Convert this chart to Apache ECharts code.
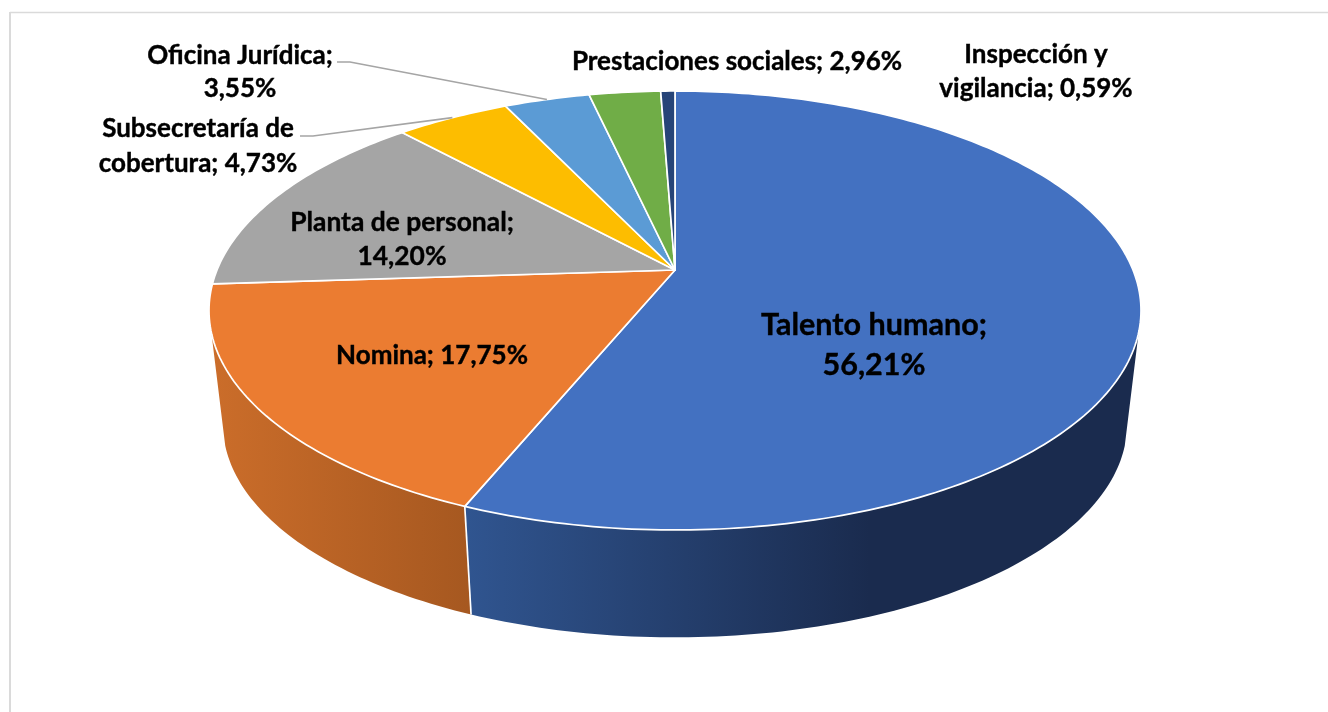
<!DOCTYPE html>
<html>
<head>
<meta charset="utf-8">
<style>html,body{margin:0;padding:0;background:#fff}#c{width:1328px;height:712px}</style>
<script src="https://cdn.jsdelivr.net/npm/echarts@6/dist/echarts.min.js"></script>
</head>
<body>
<div id="c"></div>
<script>
// ---- data ----
const categories = ['Talento humano','Nomina','Planta de personal','Subsecretaría de\ncobertura','Oficina Jurídica','Prestaciones sociales','Inspección y\nvigilancia'];
const shares = [56.21,17.75,14.20,4.73,3.55,2.96,0.59];
const separators = [';\n','; ',';\n','; ',';\n','; ','; '];
const colors = ['#4371C1','#EB7C31','#A5A5A5','#FDBD00','#5B9BD5','#70AD47','#264478'];

// ---- presentation ----
const labelFont = [30.5,26,26.4,26,26,26,26];
const labelGap = [40,34,34,35,33,34,34];
const labelAt = [[874,345],[432,355.5],[402,239],[198,146],[240,72],[737,61.5],[1036,72]];
const leaderStart = {3:[[300,136],[313,136]],4:[[337,62],[350,62]]};
const wallFill = {
  0:{x:465,x2:870,stops:['#305590','#1A2B4E']},
  1:{x:212,x2:470,stops:['#CB6D2A','#A65820']}
};
// perspective disc geometry
const CX=675, APEX=270, E=458, A=162.2, C=-0.1845;
const S=0.97, ELL_Y=310, BASE_Y=424;
const WALL_FROM=0.295, WALL_TO=0.705;

const total = shares.reduce((a,b)=>a+b,0);
const starts = []; shares.reduce((acc,v,i)=>{starts[i]=acc;return acc+v;},0);
function rim(t){ // t: clockwise fraction from the top
  const th=t*2*Math.PI, u=Math.sin(th), v=-Math.cos(th), w=1+C*v;
  return [CX+E*u/w,(A*v+APEX)/w];
}
function base(p){ return [CX+S*(p[0]-CX), BASE_Y+S*(p[1]-ELL_Y)]; }
function arc(a,b){
  const n=Math.max(2,Math.ceil((b-a)*360)), pts=[];
  for(let k=0;k<=n;k++) pts.push(rim(a+(b-a)*k/n));
  return pts;
}
function range(i){ const a=starts[i]/total; return [a,a+shares[i]/total]; }

const faceSeries={
  type:'custom',coordinateSystem:'none',z:3,silent:true,animation:false,
  data:shares.map(v=>[v]),
  renderItem(p){
    const i=p.dataIndex,[a,b]=range(i);
    return {type:'polygon',shape:{points:[[CX,APEX],...arc(a,b)]},
      style:{fill:colors[i],stroke:'#fff',lineWidth:1.7,lineJoin:'round'}};
  }
};
const wallSeries={
  type:'custom',coordinateSystem:'none',z:2,silent:true,animation:false,
  data:shares.map(v=>[v]),
  renderItem(p){
    const i=p.dataIndex,[a,b]=range(i);
    const lo=Math.max(a,WALL_FROM), hi=Math.min(b,WALL_TO);
    if(hi<=lo||!wallFill[i]) return {type:'group',children:[]};
    const top=arc(lo,hi), bot=top.map(base).reverse(), g=wallFill[i];
    return {type:'polygon',shape:{points:[...top,...bot]},
      style:{fill:{type:'linear',x:g.x,y:0,x2:g.x2,y2:0,global:true,
        colorStops:[{offset:0,color:g.stops[0]},{offset:1,color:g.stops[1]}]}}};
  }
};
const seamSeries={
  type:'custom',coordinateSystem:'none',z:4,silent:true,animation:false,
  data:shares.map(v=>[v]),
  renderItem(p){
    const i=p.dataIndex,[a,b]=range(i);
    if(!wallFill[i]||!wallFill[i+1]) return {type:'group',children:[]};
    const q=rim(b),r=base(q);
    return {type:'line',shape:{x1:q[0],y1:q[1],x2:r[0],y2:r[1]},style:{stroke:'#fff',lineWidth:1.7}};
  }
};
const labelSeries={
  type:'custom',coordinateSystem:'none',z:6,silent:true,animation:false,
  data:shares.map(v=>[v]),
  renderItem(p,api){
    const i=p.dataIndex,[a,b]=range(i),kids=[];
    if(leaderStart[i]){
      kids.push({type:'polyline',shape:{points:[...leaderStart[i],rim((a+b)/2)]},
        style:{stroke:'#A5A5A5',lineWidth:1.7,fill:null}});
    }
    const txt=categories[i]+separators[i]+api.value(0).toFixed(2).replace('.',',')+'%';
    kids.push({type:'text',style:{text:txt,x:labelAt[i][0],y:labelAt[i][1],align:'center',verticalAlign:'middle',
      fontFamily:'Lato, Carlito, sans-serif',fontWeight:'bold',fontSize:labelFont[i],lineHeight:labelGap[i],fill:'#000',
      stroke:'#000',lineWidth:0.4}});
    return {type:'group',children:kids};
  }
};

const chart=echarts.init(document.getElementById('c'));
chart.setOption({
  backgroundColor:'#fff',animation:false,
  graphic:[
    {type:'line',silent:true,shape:{x1:10,y1:12.5,x2:1328,y2:12.5},style:{stroke:'#DADADA',lineWidth:1.5}},
    {type:'line',silent:true,shape:{x1:10,y1:12,x2:10,y2:712},style:{stroke:'#DADADA',lineWidth:2}}
  ],
  series:[wallSeries,faceSeries,seamSeries,labelSeries]
});
</script>
</body>
</html>
